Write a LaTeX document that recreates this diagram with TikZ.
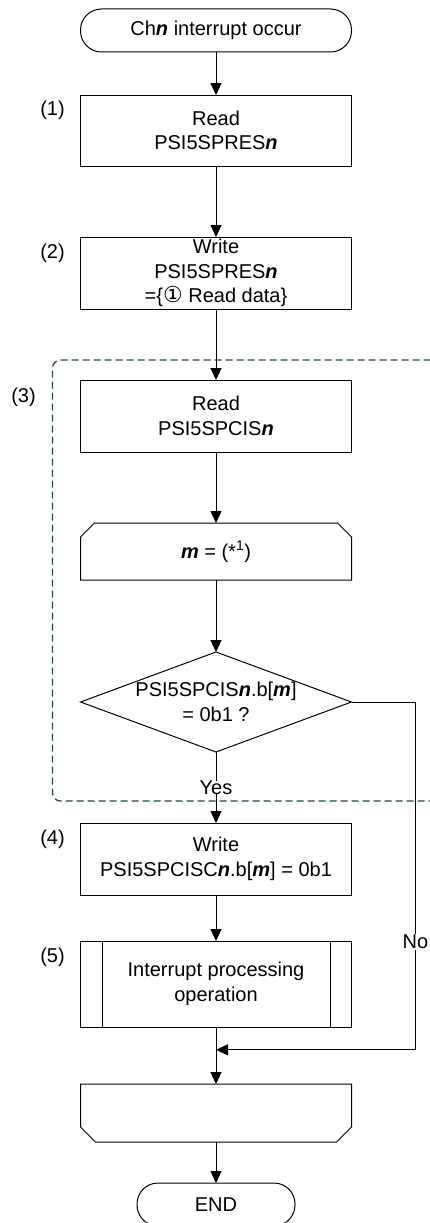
\documentclass[tikz,border=0pt]{standalone}
\usepackage{fontspec}
\setmainfont{Liberation Sans}
\newfontfamily\symfont{DejaVu Sans}
\usepackage{tikz}
\usetikzlibrary{arrows.meta,positioning,shapes.geometric,calc}
\definecolor{loopgreen}{rgb}{0.12,0.31,0.17}
\newcommand{\chn}{\textbf{\textit{n}}}
\newcommand{\bitm}{\textbf{\textit{m}}}

\begin{document}
\begin{tikzpicture}[x=1pt,y=1pt,font=\fontsize{20}{24.5}\selectfont,
   line width=1pt,outer sep=0pt,
   st/.style={draw,minimum width=271pt,minimum height=72pt,align=center,inner sep=0pt},
   term/.style={draw,rounded corners=21pt,minimum height=43pt,inner sep=0pt},
   arr/.style={-{Triangle[length=12pt,width=11pt]}},
   grp/.style={loopgreen,line width=1.3pt,dash pattern=on 7pt off 4pt,rounded corners=8pt}]
  \useasboundingbox (0,0) rectangle (429,-1223);
  \node[term,minimum width=271pt] (start) at (216,-30.5) {Ch\chn{} interrupt occur};
  \node[st,minimum height=71pt,below=43pt of start] (rdres) {Read\\PSI5SPRES\chn};
  \node[st,below=71pt of rdres] (wrres) {Write\\PSI5SPRES\chn\\=\{{\fontsize{22}{24.5}\selectfont\symfont ①} Read data\}};
  \node[st,below=71pt of wrres] (rdcis) {Read\\PSI5SPCIS\chn};
  \node[st,draw=none,minimum height=57pt,below=71pt of rdcis] (lp) {\bitm{} = (*\textsuperscript{1})};
  \node[diamond,draw,minimum width=271pt,minimum height=100pt,inner sep=0pt,
        below=72pt of lp] (dec) {};
  \node[align=center] (dectxt) at (dec) {PSI5SPCIS\chn.b[\bitm]\\= 0b1 ?};
  \node[st,below=71pt of dec] (wrcisc) {Write\\PSI5SPCISC\chn.b[\bitm] = 0b1};
  \node[st,minimum height=86pt,below=46pt of wrcisc] (ip) {Interrupt processing\\operation};
  \node[st,draw=none,minimum height=58pt,below=57pt of ip] (le) {};
  \node[term,minimum width=158pt,below=41pt of le] (end) {END};

  % loop limit shapes
  \draw (lp.south west) -- ([yshift=-14pt]lp.north west) -- ([xshift=14pt]lp.north west)
    -- ([xshift=-14pt]lp.north east) -- ([yshift=-14pt]lp.north east) -- (lp.south east) -- cycle;
  \draw (le.north west) -- ([yshift=15pt]le.south west) -- ([xshift=15pt]le.south west)
    -- ([xshift=-15pt]le.south east) -- ([yshift=15pt]le.south east) -- (le.north east) -- cycle;
  \draw ([xshift=22pt]ip.north west) -- ([xshift=22pt]ip.south west)
        ([xshift=-21pt]ip.north east) -- ([xshift=-21pt]ip.south east);

  % dashed group (3)
  \draw[grp] ($(rdcis.north east)+(90pt,20pt)$) -- ($(rdcis.north west)+(-28pt,20pt)$)
    -- ($(rdcis.west |- dec.south)+(-28pt,-49pt)$) -- ($(rdcis.east |- dec.south)+(90pt,-49pt)$);

  % step numbers
  \node (n1) at ($(rdres.north west)+(-28pt,-15pt)$) {(1)};
  \node (n2) at ($(wrres.north west)+(-28pt,-16pt)$) {(2)};
  \node (n3) at ($(rdcis.north west)+(-57pt,-17pt)$) {(3)};
  \node (n4) at ($(wrcisc.north west)+(-28pt,-16pt)$) {(4)};
  \node (n5) at ($(ip.north west)+(-28pt,-16pt)$) {(5)};

  % connectors
  \draw[arr] (start) -- (rdres);
  \draw[arr] (rdres) -- (wrres);
  \draw[arr] (wrres) -- (rdcis);
  \draw[arr] (rdcis) -- (lp);
  \draw[arr] (lp) -- (dec);
  \draw[arr] (dec) -- node[fill=white,inner sep=0pt] (yes) {Yes} (wrcisc);
  \draw[arr] (wrcisc) -- (ip);
  \draw[arr] (ip) -- (le);
  \draw[arr] (le) -- (end);
  \coordinate (mrg) at ($(ip.south)!0.4!(le.north)$);
  \coordinate (nr) at ($(dec.east)+(64pt,0)$);
  \draw[arr] (dec.east) -- (nr) -- node[pos=0.69,fill=white,inner sep=1pt] (no) {No} (nr |- mrg) -- (mrg);
\end{tikzpicture}
\end{document}
